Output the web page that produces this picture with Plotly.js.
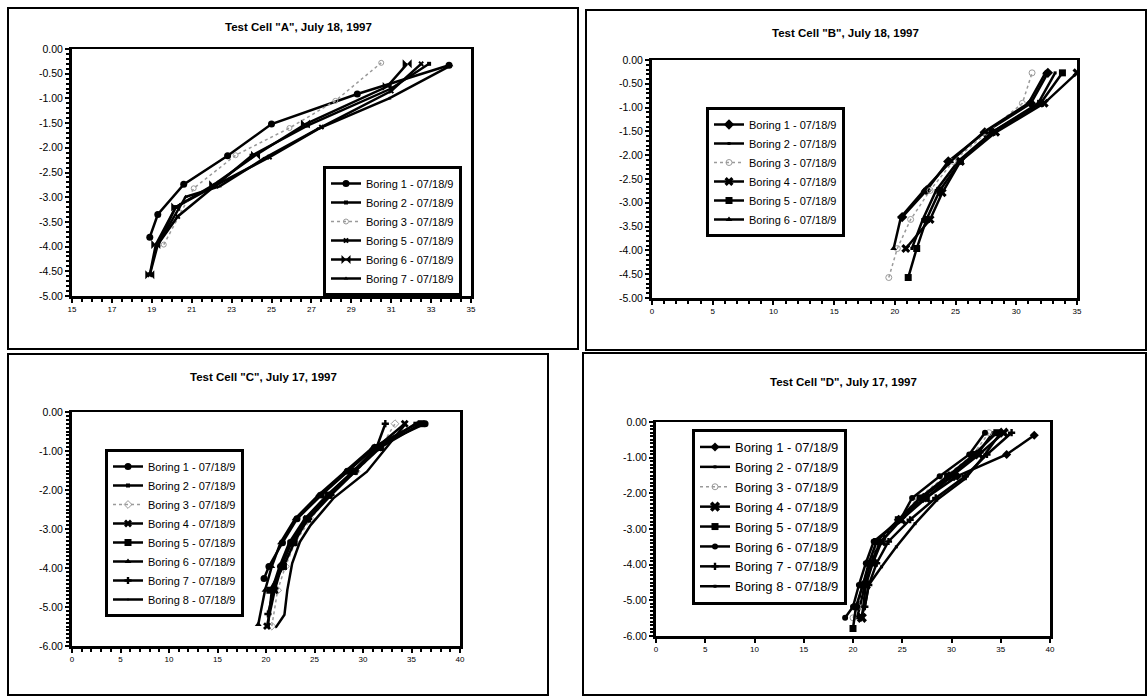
<!DOCTYPE html>
<html>
<head>
<meta charset="utf-8">
<script src="https://cdn.plot.ly/plotly-3.0.1.min.js"></script>
<style>
html,body{margin:0;padding:0;background:#fff;}
#chart{width:1147px;height:696px;}
</style>
</head>
<body>
<div id="chart"></div>
<script>
// ---------- Titles ----------
const titleA = 'Test Cell "A", July 18, 1997';
const titleB = 'Test Cell "B", July 18, 1997';
const titleC = 'Test Cell "C", July 17, 1997';
const titleD = 'Test Cell "D", July 17, 1997';

// ---------- Legend labels ----------
const namesA = ["Boring 1 - 07/18/9", "Boring 2 - 07/18/9", "Boring 3 - 07/18/9", "Boring 5 - 07/18/9", "Boring 6 - 07/18/9", "Boring 7 - 07/18/9"];
const namesB = ["Boring 1 - 07/18/9", "Boring 2 - 07/18/9", "Boring 3 - 07/18/9", "Boring 4 - 07/18/9", "Boring 5 - 07/18/9", "Boring 6 - 07/18/9"];
const namesC = ["Boring 1 - 07/18/9", "Boring 2 - 07/18/9", "Boring 3 - 07/18/9", "Boring 4 - 07/18/9", "Boring 5 - 07/18/9", "Boring 6 - 07/18/9", "Boring 7 - 07/18/9", "Boring 8 - 07/18/9"];
const namesD = namesC;

// ---------- Test Cell A data ----------
const a1x = [18.9, 19.3, 20.6, 22.8, 25.0, 29.3, 33.9];
const a1y = [-3.81, -3.35, -2.74, -2.16, -1.52, -0.91, -0.33];
const a2x = [19.3, 20.2, 22.2, 24.0, 26.8, 31.0, 32.9];
const a2y = [-3.96, -3.20, -2.76, -2.16, -1.55, -0.80, -0.30];
const a3x = [19.6, 21.1, 23.2, 25.9, 28.2, 30.5];
const a3y = [-3.96, -2.82, -2.15, -1.60, -1.05, -0.28];
const a5x = [18.9, 19.3, 20.3, 22.2, 24.9, 27.5, 31.0, 32.5];
const a5y = [-4.57, -3.96, -3.39, -2.76, -2.19, -1.58, -0.85, -0.30];
const a6x = [18.9, 19.2, 20.2, 22.1, 24.2, 26.7, 30.8, 31.8];
const a6y = [-4.57, -3.96, -3.20, -2.75, -2.15, -1.52, -0.76, -0.30];
const a7x = [19.3, 20.7, 22.4, 24.6, 27.3, 30.9, 34.0];
const a7y = [-3.96, -2.99, -2.78, -2.22, -1.62, -1.00, -0.33];

// ---------- Test Cell B data ----------
const b1x = [20.6, 22.6, 24.4, 27.4, 31.2, 32.6];
const b1y = [-3.30, -2.74, -2.13, -1.52, -0.91, -0.27];
const b2x = [21.4, 22.3, 23.4, 25.2, 28.0, 31.8, 33.2];
const b2y = [-3.96, -3.35, -2.74, -2.13, -1.52, -0.91, -0.27];
const b3x = [19.5, 20.2, 21.3, 22.9, 24.8, 27.6, 30.5, 31.3];
const b3y = [-4.57, -3.96, -3.35, -2.74, -2.13, -1.52, -0.91, -0.27];
const b4x = [20.9, 22.9, 23.9, 25.4, 28.3, 32.3, 35.0];
const b4y = [-3.96, -3.35, -2.79, -2.13, -1.52, -0.91, -0.27];
const b5x = [21.1, 21.8, 22.6, 23.7, 25.4, 28.0, 32.0, 33.8];
const b5y = [-4.57, -3.96, -3.35, -2.74, -2.13, -1.52, -0.91, -0.27];
const b6x = [19.9, 20.5, 22.4, 24.6, 27.3, 31.0, 32.4];
const b6y = [-3.96, -3.30, -2.74, -2.13, -1.52, -0.91, -0.27];

// ---------- Test Cell C data ----------
const c1x = [19.8, 20.3, 21.7, 23.2, 25.7, 28.4, 31.2, 36.4];
const c1y = [-4.27, -3.96, -3.35, -2.74, -2.13, -1.52, -0.91, -0.30];
const c2x = [20.2, 20.6, 21.4, 22.4, 24.0, 26.3, 29.0, 31.6, 35.4];
const c2y = [-5.49, -4.57, -3.96, -3.35, -2.74, -2.13, -1.52, -0.91, -0.30];
const c3x = [20.6, 21.2, 22.0, 23.0, 24.6, 26.6, 29.3, 31.8, 33.3];
const c3y = [-5.49, -4.57, -3.96, -3.35, -2.74, -2.13, -1.52, -0.91, -0.30];
const c4x = [20.1, 20.9, 21.6, 22.6, 24.2, 26.4, 29.0, 31.4, 34.3];
const c4y = [-5.49, -4.57, -3.96, -3.35, -2.74, -2.13, -1.52, -0.91, -0.30];
const c5x = [20.4, 21.8, 22.9, 24.3, 26.5, 29.1, 31.8, 36.0];
const c5y = [-4.57, -3.96, -3.35, -2.74, -2.13, -1.52, -0.91, -0.30];
const c6x = [19.2, 19.9, 20.6, 21.5, 23.0, 25.4, 28.2, 31.0, 35.6];
const c6y = [-5.45, -4.57, -3.96, -3.35, -2.74, -2.13, -1.52, -0.91, -0.30];
const c7x = [20.2, 20.8, 21.5, 22.6, 24.4, 26.7, 29.2, 31.4, 32.3];
const c7y = [-5.18, -4.57, -3.96, -3.35, -2.74, -2.13, -1.52, -0.91, -0.30];
const c8x = [21.0, 21.9, 22.2, 22.7, 23.5, 24.6, 27.0, 30.4, 34.4];
const c8y = [-5.53, -5.20, -4.56, -3.88, -3.33, -2.90, -2.20, -1.53, -0.30];

// ---------- Test Cell D data ----------
const d1x = [20.4, 21.0, 21.8, 22.8, 24.6, 27.4, 30.6, 35.6, 38.4];
const d1y = [-5.18, -4.57, -3.96, -3.35, -2.74, -2.13, -1.52, -0.91, -0.37];
const d2x = [20.4, 20.7, 21.2, 21.7, 22.8, 24.8, 27.0, 29.8, 32.6, 34.2];
const d2y = [-5.49, -5.18, -4.57, -3.96, -3.35, -2.74, -2.13, -1.52, -0.91, -0.30];
const d3x = [20.0, 20.5, 21.0, 21.6, 22.6, 24.6, 26.6, 29.4, 32.2, 33.8];
const d3y = [-5.49, -5.18, -4.57, -3.96, -3.35, -2.74, -2.13, -1.52, -0.91, -0.30];
const d4x = [20.9, 21.3, 22.0, 22.9, 24.9, 27.4, 30.0, 32.8, 35.3];
const d4y = [-5.49, -4.57, -3.96, -3.35, -2.74, -2.13, -1.52, -0.91, -0.30];
const d5x = [20.0, 20.3, 21.0, 21.6, 22.4, 24.6, 26.8, 29.6, 32.3, 34.6];
const d5y = [-5.79, -5.18, -4.57, -3.96, -3.35, -2.74, -2.13, -1.52, -0.91, -0.30];
const d6x = [19.2, 20.0, 20.6, 21.3, 22.1, 24.8, 26.0, 28.8, 31.8, 33.4];
const d6y = [-5.49, -5.18, -4.57, -3.96, -3.35, -2.74, -2.13, -1.52, -0.91, -0.30];
const d7x = [20.8, 21.2, 21.6, 22.4, 23.6, 25.8, 28.4, 31.4, 33.6, 36.1];
const d7y = [-5.49, -5.18, -4.57, -3.96, -3.35, -2.74, -2.13, -1.52, -0.91, -0.30];
const d8x = [21.2, 21.6, 22.9, 24.4, 26.3, 28.5, 31.4, 33.2, 35.0];
const d8y = [-5.18, -4.57, -4.06, -3.50, -2.85, -2.19, -1.59, -0.98, -0.30];

// ---------- Tick values / labels ----------
const yTickValsAB = [0, -0.5, -1, -1.5, -2, -2.5, -3, -3.5, -4, -4.5, -5];
const yTickTextAB = ["0.00", "-0.50", "-1.00", "-1.50", "-2.00", "-2.50", "-3.00", "-3.50", "-4.00", "-4.50", "-5.00"];
const yTickValsCD = [0, -1, -2, -3, -4, -5, -6];
const yTickTextCD = ["0.00", "-1.00", "-2.00", "-3.00", "-4.00", "-5.00", "-6.00"];
const xTickValsA = [15, 17, 19, 21, 23, 25, 27, 29, 31, 33, 35];
const xTickValsB = [0, 5, 10, 15, 20, 25, 30, 35];
const xTickValsCD = [0, 5, 10, 15, 20, 25, 30, 35, 40];

// ---------- Layout helpers (pixel geometry) ----------
const W = 1147, H = 696;
const px = v => v / W;
const py = v => 1 - v / H;
const FONT = '"Liberation Sans", Arial, sans-serif';
const BLACK = '#000';
const GRAY = '#9a9a9a';

function mk(x, y, name, xa, ya, leg, sym, size, dotted) {
  return {
    x: x, y: y, name: name, type: 'scatter', mode: 'lines+markers',
    xaxis: xa, yaxis: ya, legend: leg,
    line: {color: dotted ? GRAY : BLACK, width: dotted ? 1.5 : 2.5, dash: dotted ? 'dot' : 'solid'},
    marker: {symbol: sym, size: size, color: dotted ? GRAY : BLACK,
             line: {color: dotted ? GRAY : BLACK, width: dotted ? 1 : 0}}
  };
}

const traces = [
  mk(a1x, a1y, namesA[0], 'x', 'y', 'legend', 'circle', 7),
  mk(a2x, a2y, namesA[1], 'x', 'y', 'legend', 'square', 4),
  mk(a3x, a3y, namesA[2], 'x', 'y', 'legend', 'circle-open', 5, true),
  mk(a5x, a5y, namesA[3], 'x', 'y', 'legend', 'x', 5),
  mk(a6x, a6y, namesA[4], 'x', 'y', 'legend', 'bowtie', 9),
  mk(a7x, a7y, namesA[5], 'x', 'y', 'legend', 'triangle-up', 4),

  mk(b1x, b1y, namesB[0], 'x2', 'y2', 'legend2', 'diamond', 8),
  mk(b2x, b2y, namesB[1], 'x2', 'y2', 'legend2', 'square', 3),
  mk(b3x, b3y, namesB[2], 'x2', 'y2', 'legend2', 'circle-open', 6, true),
  mk(b4x, b4y, namesB[3], 'x2', 'y2', 'legend2', 'x', 8),
  mk(b5x, b5y, namesB[4], 'x2', 'y2', 'legend2', 'square', 7),
  mk(b6x, b6y, namesB[5], 'x2', 'y2', 'legend2', 'triangle-up', 6),

  mk(c1x, c1y, namesC[0], 'x3', 'y3', 'legend3', 'circle', 7),
  mk(c2x, c2y, namesC[1], 'x3', 'y3', 'legend3', 'square', 4),
  mk(c3x, c3y, namesC[2], 'x3', 'y3', 'legend3', 'diamond-open', 6, true),
  mk(c4x, c4y, namesC[3], 'x3', 'y3', 'legend3', 'x', 7),
  mk(c5x, c5y, namesC[4], 'x3', 'y3', 'legend3', 'square', 7),
  mk(c6x, c6y, namesC[5], 'x3', 'y3', 'legend3', 'triangle-up', 6),
  mk(c7x, c7y, namesC[6], 'x3', 'y3', 'legend3', 'cross', 6),
  mk(c8x, c8y, namesC[7], 'x3', 'y3', 'legend3', 'circle', 1),

  mk(d1x, d1y, namesD[0], 'x4', 'y4', 'legend4', 'diamond', 7),
  mk(d2x, d2y, namesD[1], 'x4', 'y4', 'legend4', 'square', 3),
  mk(d3x, d3y, namesD[2], 'x4', 'y4', 'legend4', 'circle-open', 6, true),
  mk(d4x, d4y, namesD[3], 'x4', 'y4', 'legend4', 'x', 9),
  mk(d5x, d5y, namesD[4], 'x4', 'y4', 'legend4', 'square', 7),
  mk(d6x, d6y, namesD[5], 'x4', 'y4', 'legend4', 'circle', 6),
  mk(d7x, d7y, namesD[6], 'x4', 'y4', 'legend4', 'cross', 6),
  mk(d8x, d8y, namesD[7], 'x4', 'y4', 'legend4', 'square', 3)
];

function xax(dom, range, tickvals, anchor, minorStep) {
  const a = {
    domain: dom, range: range, anchor: anchor, tickmode: 'array', tickvals: tickvals,
    showline: true, linecolor: BLACK, linewidth: 2.5, mirror: true,
    ticks: 'outside', ticklen: 4, tickwidth: 2, tickcolor: BLACK,
    tickfont: {family: FONT, size: 8, color: BLACK},
    showgrid: false, zeroline: false, fixedrange: true
  };
  if (minorStep) a.minor = {dtick: minorStep, ticks: 'outside', ticklen: 3, tickwidth: 2, tickcolor: BLACK, showgrid: false};
  return a;
}
function yax(dom, range, tickvals, ticktext, anchor, minorStep) {
  return {
    domain: dom, range: range, anchor: anchor, tickmode: 'array', tickvals: tickvals, ticktext: ticktext,
    showline: true, linecolor: BLACK, linewidth: 3, mirror: true,
    ticks: 'outside', ticklen: 4, tickwidth: 2, tickcolor: BLACK,
    tickfont: {family: FONT, size: 10.5, color: BLACK},
    showgrid: false, zeroline: false, fixedrange: true,
    minor: {dtick: minorStep, ticks: 'outside', ticklen: 3, tickwidth: 2, tickcolor: BLACK, showgrid: false}
  };
}
function leg(x, y, size) {
  return {
    x: px(x), y: py(y), xanchor: 'left', yanchor: 'top', xref: 'paper', yref: 'paper',
    bgcolor: '#fff', bordercolor: BLACK, borderwidth: 3,
    font: {family: FONT, size: size, color: BLACK}, itemwidth: 30,
    tracegroupgap: 0
  };
}
function frame(x0, y0, x1, y1) {
  return {type: 'rect', xref: 'paper', yref: 'paper', x0: px(x0), x1: px(x1), y0: py(y1), y1: py(y0),
          line: {color: BLACK, width: 2}, fillcolor: 'rgba(0,0,0,0)', layer: 'below'};
}
function ttl(text, x, y) {
  return {text: '<b>' + text + '</b>', x: px(x), y: py(y), xref: 'paper', yref: 'paper',
          showarrow: false, xanchor: 'center', yanchor: 'middle',
          font: {family: FONT, size: 11.5, color: BLACK}};
}

const layout = {
  width: W, height: H, margin: {l: 0, r: 0, t: 0, b: 0},
  paper_bgcolor: '#fff', plot_bgcolor: '#fff', showlegend: true,
  font: {family: FONT, color: BLACK},
  xaxis: xax([px(72), px(471)], [15, 35], xTickValsA, 'y', 0.5),
  yaxis: yax([py(296), py(49)], [-5, 0], yTickValsAB, yTickTextAB, 'x', 0.1),
  xaxis2: xax([px(652), px(1077)], [0, 35], xTickValsB, 'y2', 1),
  yaxis2: yax([py(298), py(60)], [-5, 0], yTickValsAB, yTickTextAB, 'x2', 0.1),
  xaxis3: xax([px(72), px(460)], [0, 40], xTickValsCD, 'y3', 1),
  yaxis3: yax([py(646), py(412)], [-6, 0], yTickValsCD, yTickTextCD, 'x3', 0.1),
  xaxis4: xax([px(656), px(1050)], [0, 40], xTickValsCD, 'y4', null),
  yaxis4: yax([py(636), py(422)], [-6, 0], yTickValsCD, yTickTextCD, 'x4', 0.1),
  legend: leg(323, 166, 11),
  legend2: leg(706, 107, 11),
  legend3: leg(105, 449, 11),
  legend4: leg(692, 429, 13),
  annotations: [
    ttl(titleA, 298, 27),
    ttl(titleB, 845, 33),
    ttl(titleC, 263, 377),
    ttl(titleD, 843, 382)
  ],
  shapes: [
    frame(8, 8, 578, 349),
    frame(586, 10, 1146, 350),
    frame(8, 354, 548, 695),
    frame(583, 353, 1146, 695)
  ]
};

Plotly.newPlot('chart', traces, layout, {displayModeBar: false, staticPlot: true});
</script>
</body>
</html>
